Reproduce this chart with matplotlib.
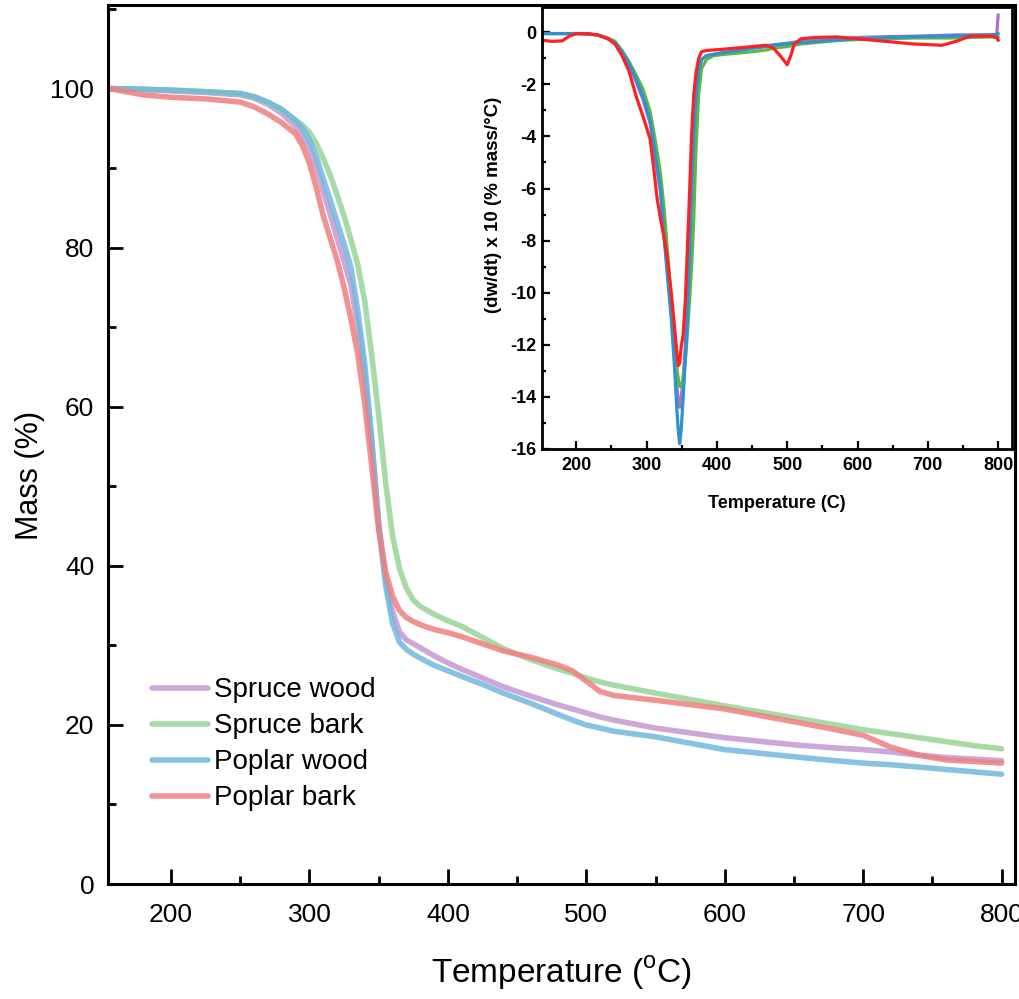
import matplotlib
matplotlib.use("Agg")
import matplotlib.pyplot as plt
from matplotlib.ticker import MultipleLocator

plt.rcParams['font.family'] = ['Liberation Sans', 'DejaVu Sans']
plt.rcParams['axes.unicode_minus'] = False

# ---- TG data (main plot) ----
temp_tg = [155, 180, 200, 225, 250, 260, 270, 280, 290, 295, 300, 305, 310, 315, 320, 325, 330, 335, 340, 345, 350,
           355, 360, 365, 370, 375, 380, 390, 400, 410, 425, 440, 460, 480, 490, 500,
           510, 520, 550, 600, 650, 680, 700, 720, 740, 760, 780, 800]

spruce_wood = [100, 99.9, 99.7, 99.5, 99.2, 98.8, 98.0, 96.9, 95.2, 94.0, 92.5, 90.0, 87.0, 84.2, 81.2, 78.3, 75.2, 70.0, 63.8, 55.5, 45.5,
               38.5, 34.3, 31.7, 30.7, 30.2, 29.7, 28.7, 27.8, 27.0, 25.9, 24.8, 23.6, 22.5, 22.0, 21.5,
               21.0, 20.6, 19.6, 18.4, 17.5, 17.1, 16.9, 16.6, 16.2, 15.9, 15.7, 15.5]

spruce_bark = [100, 99.9, 99.8, 99.6, 99.3, 98.9, 98.2, 97.3, 96.0, 95.4, 94.5, 93.1, 91.2, 89.1, 86.6, 84.0, 81.0, 77.8, 73.2, 66.5, 59.0,
               50.5, 43.8, 39.7, 37.2, 35.7, 34.9, 33.9, 33.1, 32.4, 31.0, 29.6, 28.2, 27.0, 26.5, 25.9,
               25.4, 25.0, 24.0, 22.4, 20.9, 20.0, 19.4, 18.9, 18.4, 17.9, 17.4, 17.0]

poplar_wood = [100, 99.9, 99.8, 99.6, 99.4, 99.0, 98.3, 97.4, 96.0, 95.0, 93.6, 91.4, 88.6, 86.0, 83.2, 80.5, 77.5, 72.0, 65.3, 56.0, 45.0,
               37.6, 32.8, 30.4, 29.5, 28.9, 28.4, 27.5, 26.8, 26.1, 25.1, 24.0, 22.7, 21.3, 20.6, 20.0,
               19.6, 19.2, 18.5, 16.9, 16.0, 15.5, 15.2, 15.0, 14.7, 14.4, 14.1, 13.8]

poplar_bark = [100, 99.2, 98.9, 98.7, 98.3, 97.7, 96.8, 95.7, 94.3, 92.8, 90.6, 87.5, 84.0, 81.2, 78.4, 75.0, 71.0, 66.5, 60.3, 52.5, 44.5,
               39.3, 36.2, 34.4, 33.5, 33.0, 32.6, 32.0, 31.6, 31.1, 30.2, 29.3, 28.5, 27.5, 26.8, 25.5,
               24.2, 23.7, 23.1, 22.0, 20.4, 19.4, 18.7, 17.2, 16.2, 15.6, 15.4, 15.2]

# ---- DTG data (inset) ----
temp_dtg = [150, 165, 180, 190, 200, 215, 230, 245, 255, 265, 275, 285, 295, 305, 310, 315, 320,
            325, 330, 335, 340, 343, 345, 347, 349, 352, 355, 358, 361, 364, 367, 370, 374, 378,
            385, 395, 410, 430, 450, 470, 480, 490, 500, 505, 510, 520, 540, 570, 600, 640, 680,
            720, 740, 760, 790, 798, 800]

dtg_spruce_wood = [-0.05, -0.05, -0.05, -0.05, -0.05, -0.07, -0.1, -0.25, -0.4, -0.8, -1.25, -1.9, -2.6, -3.5, -4.4, -5.3, -6.2,
                   -7.9, -9.3, -10.7, -12.5, -13.6, -14.1, -14.4, -14.1, -13.2, -12.0, -10.4, -8.3, -6.0, -4.0, -2.6, -1.5, -1.05,
                   -0.9, -0.85, -0.78, -0.7, -0.6, -0.52, -0.48, -0.45, -0.42, -0.4, -0.38, -0.35, -0.3, -0.25, -0.2, -0.17, -0.15,
                   -0.12, -0.1, -0.1, -0.1, -0.1, 0.66]

dtg_spruce_bark = [-0.05, -0.05, -0.05, -0.05, -0.05, -0.07, -0.1, -0.22, -0.35, -0.7, -1.13, -1.64, -2.2, -3.05, -3.8, -4.6, -5.5,
                   -6.8, -8.5, -10.2, -12.0, -12.9, -13.3, -13.6, -13.6, -13.3, -12.6, -11.6, -10.3, -9.0, -7.2, -4.6, -2.4, -1.4,
                   -1.05, -0.9, -0.85, -0.8, -0.75, -0.68, -0.62, -0.58, -0.55, -0.52, -0.5, -0.45, -0.4, -0.32, -0.28, -0.25, -0.22,
                   -0.22, -0.22, -0.2, -0.18, -0.18, -0.18]

dtg_poplar_wood = [-0.05, -0.05, -0.05, -0.05, -0.05, -0.07, -0.1, -0.25, -0.4, -0.75, -1.2, -1.8, -2.5, -3.4, -4.3, -5.2, -6.1,
                   -7.9, -9.5, -11.0, -13.0, -14.5, -15.3, -15.8, -15.3, -14.0, -12.6, -10.9, -8.5, -6.1, -4.0, -2.6, -1.5, -1.05,
                   -0.9, -0.85, -0.78, -0.7, -0.62, -0.55, -0.5, -0.47, -0.45, -0.43, -0.42, -0.4, -0.35, -0.3, -0.25, -0.2, -0.17,
                   -0.15, -0.14, -0.12, -0.1, -0.08, -0.05]

dtg_poplar_bark = [-0.3, -0.35, -0.33, -0.15, -0.05, -0.05, -0.1, -0.25, -0.45, -0.9, -1.5, -2.45, -3.25, -4.1, -5.2, -6.4, -7.2,
                   -7.9, -8.8, -10.0, -11.4, -12.3, -12.8, -12.7, -12.1, -11.6, -10.3, -8.3, -6.2, -3.9, -2.4, -1.6, -1.0, -0.75,
                   -0.7, -0.68, -0.65, -0.6, -0.55, -0.5, -0.6, -0.9, -1.25, -0.9, -0.45, -0.25, -0.2, -0.18, -0.25, -0.35, -0.45,
                   -0.5, -0.35, -0.15, -0.15, -0.2, -0.3]

labels = ["Spruce wood", "Spruce bark", "Poplar wood", "Poplar bark"]
tg_colors = ['#c299d2', '#98d498', '#72b8dc', '#ef7f7f']
dtg_colors = ['#a874c8', '#5cb848', '#2e92d0', '#ff2020']

fig = plt.figure(figsize=(10.2, 9.99), dpi=100)
ax = fig.add_axes([0.1059, 0.1151, 0.8891, 0.8799])

for y, c, lab in zip([spruce_wood, spruce_bark, poplar_wood, poplar_bark], tg_colors, labels):
    ax.plot(temp_tg, y, color=c, lw=4.0, alpha=0.85, label=lab, solid_capstyle='round')

ax.set_xlim(154.5, 809.6)
ax.set_ylim(0, 110.5)
ax.xaxis.set_major_locator(MultipleLocator(100))
ax.xaxis.set_minor_locator(MultipleLocator(50))
ax.yaxis.set_major_locator(MultipleLocator(20))
ax.yaxis.set_minor_locator(MultipleLocator(10))
ax.tick_params(which='both', direction='in', width=2, top=False, right=False, labelsize=19)
ax.tick_params(which='major', length=11)
ax.tick_params(which='minor', length=6)
ax.tick_params(axis='x', pad=14)
ax.tick_params(axis='y', pad=10)
for s in ax.spines.values():
    s.set_linewidth(2.2)
ax.set_xlabel('Temperature ($^{\\mathregular{o}}$C)', fontsize=24, labelpad=19)
ax.set_ylabel('Mass (%)', fontsize=22)
ax.yaxis.set_label_coords(-0.069, 0.465)

leg = ax.legend(loc='upper left', bbox_to_anchor=(0.049, 0.235), frameon=False, fontsize=20,
                handlelength=2.0, handletextpad=0.2, labelspacing=0.36, borderpad=0, borderaxespad=0)

# ---- inset ----
ins = fig.add_axes([0.531, 0.5506, 0.4610, 0.4424])
ins.set_facecolor('white')
for y, c in zip([dtg_spruce_wood, dtg_spruce_bark, dtg_poplar_wood, dtg_poplar_bark], dtg_colors):
    ins.plot(temp_dtg, y, color=c, lw=2.3)
ins.set_xlim(150.6, 819.5)
ins.set_ylim(-16.0, 0.97)
ins.xaxis.set_major_locator(MultipleLocator(100))
ins.xaxis.set_minor_locator(MultipleLocator(50))
ins.yaxis.set_major_locator(MultipleLocator(2))
ins.yaxis.set_minor_locator(MultipleLocator(1))
ins.tick_params(which='both', direction='in', width=1.6, top=False, right=False, labelsize=13)
ins.tick_params(which='major', length=6)
ins.tick_params(which='minor', length=3)
ins.tick_params(axis='x', pad=6)
ins.tick_params(axis='y', pad=4)
for t in ins.get_xticklabels() + ins.get_yticklabels():
    t.set_fontweight('bold')
for s in ins.spines.values():
    s.set_linewidth(2)
ins.set_xlabel('Temperature (C)', fontsize=13, fontweight='bold', labelpad=15)
ins.set_ylabel('(dw/dt) x 10 (% mass/\u00b0C)', fontsize=13.5, fontweight='bold')
ins.yaxis.set_label_coords(-0.085, 0.552)

fig.savefig('out.png', dpi=100)
